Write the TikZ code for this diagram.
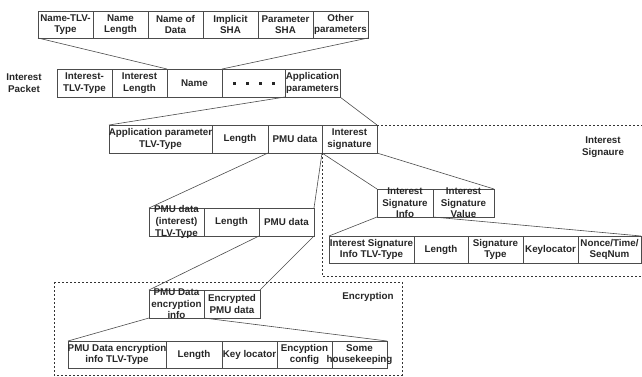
\documentclass[tikz,border=0pt]{standalone}
\usepackage{fontspec}
\setmainfont{Liberation Sans}
\begin{document}
\begin{tikzpicture}[x=1pt,y=-1pt,
  cell/.style={draw=black!70,line width=0.7pt,inner sep=0pt,outer sep=0pt},
  txt/.style={font=\bfseries\fontsize{9.8}{11.6}\selectfont,text=black!85,align=center,inner sep=0pt},
  conn/.style={draw=black!70,line width=0.6pt},
  dashbox/.style={draw=black!80,line width=0.8pt,dash pattern=on 2pt off 2pt}]
\useasboundingbox (0,0) rectangle (642,376);
\newcommand\cell[6]{\node[cell,minimum width={#4-#2},minimum height={#5-#3},anchor=north west,label={[txt]center:#6}] (#1) at (#2,#3) {};}
% top row (name components)
\cell{t1}{38}{11}{93}{38}{Name-TLV-\\Type}
\cell{t2}{93}{11}{148}{38}{Name\\Length}
\cell{t3}{148}{11}{203}{38}{Name of\\Data}
\cell{t4}{203}{11}{258}{38}{Implicit\\SHA}
\cell{t5}{258}{11}{313}{38}{Parameter\\SHA}
\cell{t6}{313}{11}{368}{38}{Other\\parameters}
% interest packet row
\node[txt] (ip) at (24,83) {Interest\\Packet};
\cell{p1}{57}{69}{112}{97}{Interest-\\TLV-Type}
\cell{p2}{112}{69}{167}{97}{Interest\\Length}
\cell{p3}{167}{69}{222}{97}{Name}
\cell{p4}{222}{69}{285}{97}{\rule{3pt}{3pt}\hspace{10pt}\rule{3pt}{3pt}\hspace{10pt}\rule{3pt}{3pt}\hspace{10pt}\rule{3pt}{3pt}}
\cell{p5}{285}{69}{340}{97}{Application\\parameters}
% application parameters row
\cell{a1}{109}{125}{212}{153}{Application parameter\\TLV-Type}
\cell{a2}{212}{125}{268}{153}{Length}
\cell{a3}{268}{125}{322}{153}{PMU data}
\cell{a4}{322}{125}{377}{153}{Interest\\signature}
% interest signature info/value
\cell{s1}{377}{189}{433}{217}{Interest\\Signature\\Info}
\cell{s2}{433}{189}{494}{217}{Interest\\Signature\\Value}
% signature info row
\cell{r1}{329}{236}{414}{263}{Interest Signature\\Info TLV-Type}
\cell{r2}{414}{236}{468}{263}{Length}
\cell{r3}{468}{236}{523}{263}{Signature\\Type}
\cell{r4}{523}{236}{578}{263}{Keylocator}
\cell{r5}{578}{236}{641}{263}{Nonce/Time/\\SeqNum}
% PMU data row
\cell{m1}{149}{208}{204}{236}{PMU data\\(interest)\\TLV-Type}
\cell{m2}{204}{208}{259}{236}{Length}
\cell{m3}{259}{208}{314}{236}{PMU data}
% encryption
\cell{e1}{149}{290}{204}{318}{PMU Data\\encryption\\info}
\cell{e2}{204}{290}{260}{318}{Encrypted\\PMU data}
\cell{b1}{68}{341}{166}{368}{PMU Data encryption\\info TLV-Type}
\cell{b2}{166}{341}{222}{368}{Length}
\cell{b3}{222}{341}{277}{368}{Key locator}
\cell{b4}{277}{341}{332}{368}{Encyption\\config}
\cell{b5}{332}{341}{387}{368}{Some\\housekeeping}
% connectors
\draw[conn] (t1.south west) -- (p3.north west);
\draw[conn] (t6.south east) -- (p3.north east);
\draw[conn] (p5.south west) -- (a1.north west);
\draw[conn] (p5.south east) -- (a4.north east);
\draw[conn] (a3.south west) -- (m1.north west);
\draw[conn] (a3.south east) -- (m3.north east);
\draw[conn] (a4.south west) -- (s1.north west);
\draw[conn] (a4.south east) -- (s2.north east);
\draw[conn] (s1.south west) -- (r1.north west);
\draw[conn] (s1.south east) -- (r5.north east);
\draw[conn] (m3.south west) -- (e1.north west);
\draw[conn] (m3.south east) -- (e2.north east);
\draw[conn] (e1.south west) -- (b1.north west);
\draw[conn] (e1.south east) -- (b5.north east);
% dashed groups
\coordinate (sigtr) at (642,125);
\coordinate (sigbl) at (322,276);
\coordinate (sigbr) at (642,276);
\draw[dashbox] (a4.north east) -- (sigtr);
\draw[dashbox] (a4.south west) -- (sigbl) -- (sigbr);
\node[txt] (siglab) at (603,147) {Interest\\Signaure};
\draw[dashbox] (54,282) rectangle (402,375);
\node[txt] (enclab) at (368,297) {Encryption};
\end{tikzpicture}
\end{document}
